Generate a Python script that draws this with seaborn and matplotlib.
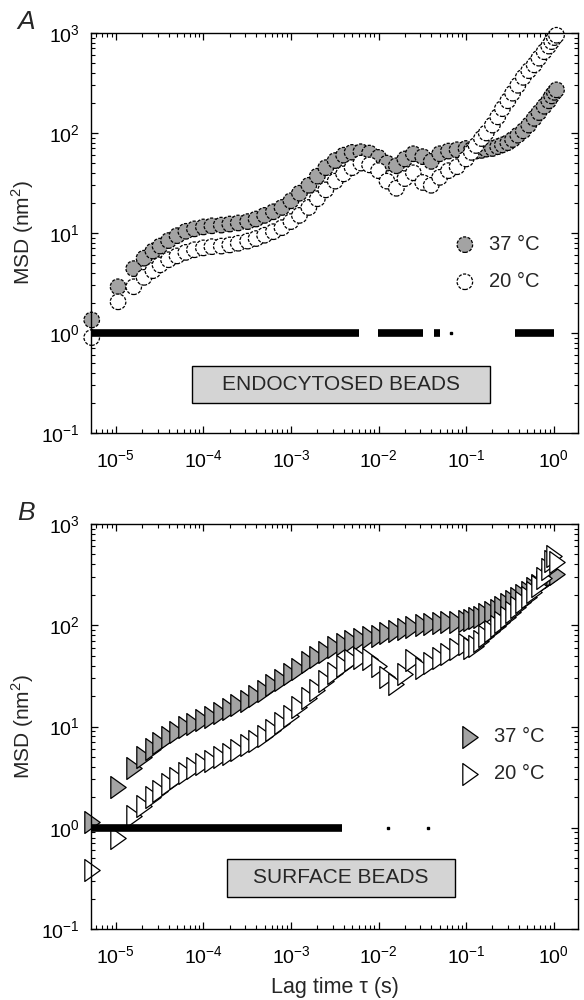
import matplotlib
matplotlib.use("Agg")
import matplotlib.pyplot as plt
from matplotlib.patches import Rectangle
from matplotlib.path import Path
import seaborn as sns
import pandas as pd

# ---- data ----
# lag times (s)
lag = [5.3e-6, 1.06e-5, 1.6e-5, 2.1e-5, 2.65e-5, 3.2e-5, 4.0e-5, 5.0e-5, 6.3e-5, 7.9e-5,
       1.0e-4, 1.25e-4, 1.6e-4, 2.0e-4, 2.5e-4, 3.2e-4, 4.0e-4, 5.0e-4, 6.3e-4, 7.9e-4,
       1.0e-3, 1.25e-3, 1.6e-3, 2.0e-3, 2.5e-3, 3.2e-3, 4.0e-3, 5.0e-3, 6.3e-3, 7.9e-3,
       1.0e-2, 1.25e-2, 1.6e-2, 2.0e-2, 2.5e-2, 3.2e-2, 4.0e-2, 5.0e-2, 6.3e-2, 7.9e-2,
       0.1, 0.115, 0.13, 0.15, 0.17, 0.2, 0.23, 0.26, 0.3, 0.34,
       0.39, 0.45, 0.52, 0.6, 0.68, 0.78, 0.88, 0.95, 1.02, 1.08]

# panel A: endocytosed beads, MSD (nm^2)
msd_a_37 = [1.35, 2.9, 4.4, 5.6, 6.6, 7.4, 8.4, 9.4, 10.4, 11.0,
            11.5, 11.8, 12.0, 12.3, 12.6, 13.0, 13.8, 15.0, 16.3, 18.0,
            21, 25, 30, 37, 45, 53, 60, 64, 65, 63,
            57, 50, 47, 55, 62, 58, 52, 62, 66, 68,
            70, 68, 66, 67, 69, 70, 73, 76, 80, 86,
            95, 105, 120, 140, 160, 185, 210, 235, 255, 270]
msd_a_20 = [0.9, 2.05, 2.9, 3.6, 4.2, 4.8, 5.4, 5.9, 6.4, 6.8,
            7.1, 7.3, 7.4, 7.6, 7.9, 8.3, 8.8, 9.5, 10.3, 11.3,
            13, 15, 18, 22, 27, 33, 39, 45, 50, 48,
            42, 33, 28, 35, 40, 32, 30, 36, 42, 46,
            55, 64, 75, 88, 100, 120, 145, 175, 210, 250,
            300, 360, 420, 480, 560, 650, 740, 820, 900, 950]

# panel B: surface beads, MSD (nm^2)
msd_b_37 = [1.15, 2.5, 3.9, 5.0, 6.0, 6.8, 7.9, 8.9, 9.8, 10.7,
            11.6, 12.5, 13.6, 14.8, 16.2, 17.8, 20, 22.5, 25.5, 29,
            33, 37, 43, 49, 55, 61, 66, 70, 73, 76,
            79, 83, 88, 92, 97, 101, 104, 106, 107, 108,
            110, 113, 117, 122, 128, 135, 143, 152, 162, 172,
            185, 200, 215, 232, 250, 268, 285, 300, 310, 320]
msd_b_20 = [0.38, 0.8, 1.3, 1.65, 2.0, 2.3, 2.7, 3.1, 3.5, 3.9,
            4.3, 4.6, 5.0, 5.4, 5.9, 6.5, 7.2, 8.0, 9.2, 10.8,
            12.8, 15.5, 19, 23, 28, 34, 40, 45, 48, 46,
            40, 31, 26, 33, 45, 38, 42, 47, 52, 58,
            65, 60, 63, 70, 78, 88, 98, 108, 120, 135,
            150, 170, 190, 215, 245, 290, 360, 430, 480, 420]

# significance bars drawn at MSD = 1
bar_a_start = [5.2e-6, 9.8e-3, 4.3e-2, 0.36]
bar_a_end = [6.0e-3, 3.2e-2, 5.1e-2, 1.0]
dot_a = [6.8e-2]
bar_b_start = [5.2e-6]
bar_b_end = [3.8e-3]
dot_b = [1.3e-2, 3.7e-2]

labels = ["37 \u00b0C", "20 \u00b0C"]
box_texts = ["ENDOCYTOSED BEADS", "SURFACE BEADS"]
panel_letters = ["A", "B"]

df_a = pd.DataFrame({"lag": lag, "m37": msd_a_37, "m20": msd_a_20})
df_b = pd.DataFrame({"lag": lag, "m37": msd_b_37, "m20": msd_b_20})

sns.set_style("ticks")
plt.rcParams["font.family"] = ["Liberation Sans", "DejaVu Sans"]
plt.rcParams["mathtext.fontset"] = "custom"
plt.rcParams["mathtext.rm"] = "Liberation Sans"
plt.rcParams["axes.unicode_minus"] = False

fig = plt.figure(figsize=(5.84, 10), dpi=100)
ax1 = fig.add_axes([91 / 584, 0.567, 487 / 584, 0.400])
ax2 = fig.add_axes([91 / 584, 0.071, 487 / 584, 0.405])

# tall right-pointing triangle, closed so all three edges are stroked
tri = Path([(-0.7, -1.0), (0.7, 0.0), (-0.7, 1.0), (-0.7, -1.0)],
           [Path.MOVETO, Path.LINETO, Path.LINETO, Path.CLOSEPOLY])
gray = "#a3a3a3"

def panel(ax, df, marker, size, ls, bstart, bend, dots, box, boxtext, leg_xy):
    sns.scatterplot(data=df, x="lag", y="m37", ax=ax, marker=marker, s=size,
                    color=gray, edgecolor="k", linewidth=0.9, linestyle=ls,
                    label=labels[0], clip_on=False, zorder=2)
    sns.scatterplot(data=df, x="lag", y="m20", ax=ax, marker=marker, s=size,
                    color="white", edgecolor="k", linewidth=0.9, linestyle=ls,
                    label=labels[1], clip_on=False, zorder=2.5)
    ax.hlines([1.0] * len(bstart), bstart, bend, colors="k", lw=5.5, zorder=4)
    ax.plot(dots, [1.0] * len(dots), "s", color="k", ms=2, zorder=4)

    ax.set_xscale("log")
    ax.set_yscale("log")
    ax.set_xlim(5.2e-6, 1.9)
    ax.set_ylim(0.1, 1000)
    ax.set_xlabel("")
    ax.set_ylabel("MSD (nm$^{\\mathdefault{2}}$)", fontsize=15, labelpad=4)

    for s in ax.spines.values():
        s.set_visible(True)
        s.set_linewidth(1.0)
        s.set_color("k")
    ax.tick_params(which="both", direction="in", top=True, right=True, colors="k")
    ax.tick_params(which="major", length=5, width=0.9, labelsize=14, pad=8)
    ax.tick_params(axis="x", which="major", pad=12)
    ax.tick_params(which="minor", length=3, width=0.8)

    x0, y0, x1, y1 = box
    ax.add_patch(Rectangle((x0, y0), x1 - x0, y1 - y0, transform=ax.transAxes,
                           facecolor="#d4d4d4", edgecolor="k", lw=1.0, zorder=3))
    ax.text((x0 + x1) / 2, (y0 + y1) / 2, boxtext, transform=ax.transAxes,
            ha="center", va="center", fontsize=15, zorder=5)

    ax.legend(loc="center left", bbox_to_anchor=leg_xy, frameon=False, fontsize=14.5,
              handlelength=1.0, handletextpad=0.7, labelspacing=0.9,
              borderpad=0, borderaxespad=0, scatterpoints=1)

panel(ax1, df_a, "o", 125, (0, (2.5, 1.2)), bar_a_start, bar_a_end, dot_a,
      (0.207, 0.075, 0.819, 0.1675), box_texts[0], (0.747, 0.425))
panel(ax2, df_b, tri, 250, "solid", bar_b_start, bar_b_end, dot_b,
      (0.279, 0.079, 0.747, 0.173), box_texts[1], (0.758, 0.43))

ax2.set_xlabel("Lag time \u03c4 (s)", fontsize=15.5, labelpad=7)

fig.text(26 / 584, 1 - 22 / 1000, panel_letters[0], fontsize=19, style="italic",
         ha="center", va="center")
fig.text(26 / 584, 1 - 513 / 1000, panel_letters[1], fontsize=19, style="italic",
         ha="center", va="center")

fig.savefig("out.png", dpi=100)
